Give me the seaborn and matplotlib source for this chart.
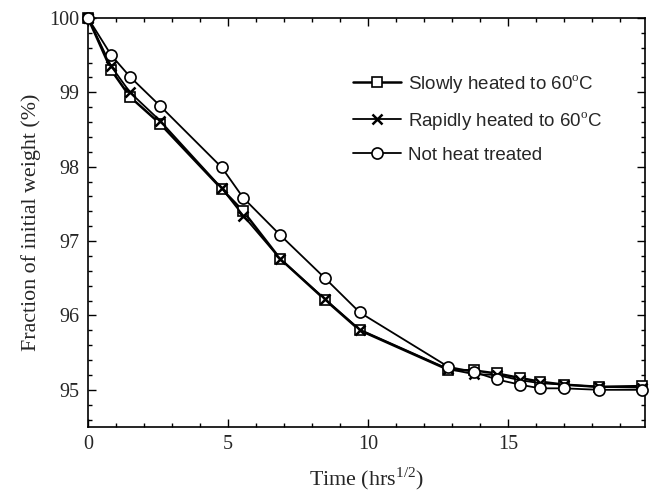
import matplotlib
matplotlib.use("Agg")
import matplotlib.pyplot as plt
from matplotlib.ticker import MultipleLocator
import seaborn as sns
import pandas as pd

time = [0, 0.83, 1.5, 2.57, 4.78, 5.55, 6.87, 8.47, 9.71, 12.87, 13.8, 14.6, 15.43, 16.14, 17.0, 18.25, 19.8]
slowly = [100, 99.30, 98.94, 98.58, 97.70, 97.40, 96.76, 96.21, 95.80, 95.27, 95.26, 95.22, 95.16, 95.11, 95.07, 95.04, 95.05]
rapidly = [100, 99.35, 99.00, 98.62, 97.71, 97.34, 96.76, 96.22, 95.81, 95.28, 95.21, 95.20, 95.13, 95.09, 95.07, 95.04, 95.03]
not_heated = [100, 99.50, 99.21, 98.82, 97.99, 97.58, 97.08, 96.50, 96.04, 95.31, 95.24, 95.14, 95.07, 95.02, 95.02, 95.00, 95.00]

labels = ["Slowly heated to 60$^{\\mathrm{o}}$C", "Rapidly heated to 60$^{\\mathrm{o}}$C", "Not heat treated"]

sns.set_style("white")
plt.rcParams["font.family"] = ["Liberation Serif", "DejaVu Serif"]
plt.rcParams["mathtext.fontset"] = "custom"
plt.rcParams["mathtext.rm"] = "Liberation Serif"

fig = plt.figure(figsize=(6.51, 4.93), dpi=100)
ax = fig.add_axes([88/651, 1-427/493, (645-88)/651, (427-18)/493])

df_s = pd.DataFrame({"t": time, "w": slowly})
df_r = pd.DataFrame({"t": time, "w": rapidly})
df_n = pd.DataFrame({"t": time, "w": not_heated})

sns.lineplot(data=df_s, x="t", y="w", ax=ax, color="black", lw=1.8, marker="s",
             markersize=7.5, markerfacecolor="white", markeredgecolor="black",
             markeredgewidth=1.2, label=labels[0], clip_on=False, zorder=3)
sns.lineplot(data=df_r, x="t", y="w", ax=ax, color="black", lw=1.3, marker="x",
             markersize=7, markeredgecolor="black", markeredgewidth=1.8,
             label=labels[1], clip_on=False, zorder=4)
sns.lineplot(data=df_n, x="t", y="w", ax=ax, color="black", lw=1.3, marker="o",
             markersize=8, markerfacecolor="white", markeredgecolor="black",
             markeredgewidth=1.2, label=labels[2], clip_on=False, zorder=5)

ax.set_xlim(0, 19.9)
ax.set_ylim(94.5, 100)
ax.xaxis.set_major_locator(MultipleLocator(5))
ax.xaxis.set_minor_locator(MultipleLocator(1))
ax.yaxis.set_major_locator(MultipleLocator(1))
ax.yaxis.set_minor_locator(MultipleLocator(0.2))
ax.tick_params(which="both", direction="in", top=True, right=True, bottom=True, left=True,
               color="black", width=1.0)
ax.tick_params(which="major", length=6, labelsize=14.5, pad=6)
ax.tick_params(which="minor", length=3)
for s in ax.spines.values():
    s.set_color("black")
    s.set_linewidth(1.2)

ax.set_xlabel("Time (hrs$^{1/2}$)", fontsize=15.8, labelpad=8)
ax.set_ylabel("Fraction of initial weight (%)", fontsize=15.8, labelpad=6)

leg = ax.legend(loc="upper left", bbox_to_anchor=(0.445, 0.907), frameon=False,
                prop={"family": "Liberation Sans", "size": 13.5},
                handlelength=2.6, handletextpad=0.35, labelspacing=0.8)

fig.savefig("out.png", dpi=100)
